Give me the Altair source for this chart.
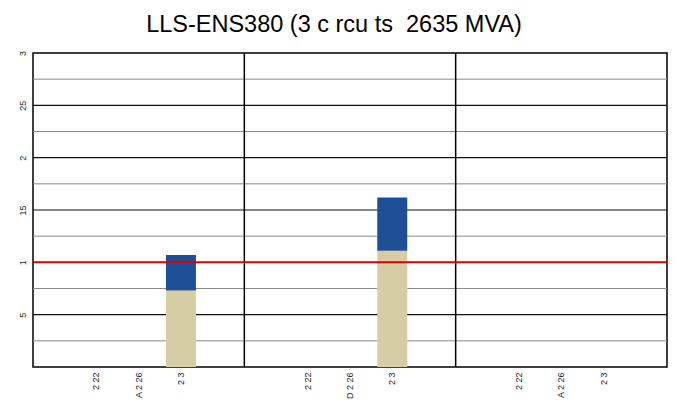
import altair as alt
import pandas as pd

title_text = "LLS-ENS380 (3 c rcu ts\u00a0\u00a02635 MVA)"
panels = ["P1", "P2", "P3"]
slot_labels = [
    ["", "2 22", "A 2 26", "2 3", ""],
    ["", "2 22", "D 2 26", "2 3", ""],
    ["", "2 22", "A 2 26", "2 3", ""],
]
base_vals = [
    [0, 0, 0, 0.73, 0],
    [0, 0, 0, 1.11, 0],
    [0, 0, 0, 0, 0],
]
top_vals = [
    [0, 0, 0, 0.34, 0],
    [0, 0, 0, 0.51, 0],
    [0, 0, 0, 0, 0],
]
y_tick_values = [0.5, 1.0, 1.5, 2.0, 2.5, 3.0]
y_tick_text = ["5", "1", "15", "2", "25", "3"]
major_grid = [0.5, 1.5, 2.0, 2.5]
minor_grid = [0.25, 0.75, 1.25, 1.75, 2.25, 2.75]
limit_value = 1.0

rows = []
slot_ids = []
slot_text = {}
for p, labs, bv, tv in zip(panels, slot_labels, base_vals, top_vals):
    for i, lab in enumerate(labs):
        sid = f"{p}_{i}"
        slot_ids.append(sid)
        slot_text[sid] = lab
        rows.append({"slot": sid, "series": "base", "ord": 0, "value": bv[i]})
        rows.append({"slot": sid, "series": "top", "ord": 1, "value": tv[i]})
df = pd.DataFrame(rows)

x_label_expr = "".join(
    f"datum.value=='{k}' ? '{v}' : " for k, v in slot_text.items() if v
) + "''"
y_label_expr = "".join(
    f"abs(datum.value-{v})<0.001 ? '{t}' : " for v, t in zip(y_tick_values, y_tick_text)
) + "''"

x_scale = alt.Scale(domain=slot_ids, paddingInner=0, paddingOuter=0)
y_scale = alt.Scale(domain=[0, 3], nice=False)
y_axis = alt.Axis(values=y_tick_values, labelExpr=y_label_expr, grid=False,
                  ticks=False, domain=False, labelAngle=270, labelFontSize=9,
                  labelColor="#222", labelFont="Liberation Sans", labelPadding=11,
                  labelBaseline="middle", labelAlign="center",
                  minExtent=20, maxExtent=20, title=None)
x_axis = alt.Axis(labelAngle=270, ticks=False, domain=False, labelFontSize=9,
                  labelColor="#222", labelPadding=5, labelFont="Liberation Sans",
                  labelExpr=x_label_expr, grid=False, title=None,
                  minExtent=24, maxExtent=24)

minor = alt.Chart(pd.DataFrame({"y": minor_grid})).mark_rule(color="#8a8a8a", strokeWidth=1).encode(
    y=alt.Y("y:Q", scale=y_scale, axis=y_axis, title=None)
)
major = alt.Chart(pd.DataFrame({"y": major_grid})).mark_rule(color="#111111", strokeWidth=1.2).encode(
    y=alt.Y("y:Q", scale=y_scale, axis=y_axis, title=None)
)

bars = alt.Chart(df).mark_bar(size=30).encode(
    x=alt.X("slot:N", sort=slot_ids, title=None, scale=x_scale, axis=x_axis),
    y=alt.Y("value:Q", stack="zero", title=None, scale=y_scale, axis=y_axis),
    color=alt.Color("series:N", legend=None,
                    scale=alt.Scale(domain=["base", "top"], range=["#d7cda5", "#1e4f96"])),
    order=alt.Order("ord:Q"),
)

sep = alt.Chart(pd.DataFrame({"slot": ["P2_0", "P3_0"]})).mark_rule(color="#000", strokeWidth=1.5).encode(
    x=alt.X("slot:N", bandPosition=0, scale=x_scale, sort=slot_ids, axis=x_axis, title=None)
)

rule = alt.Chart(pd.DataFrame({"y": [limit_value]})).mark_rule(color="#e00000", strokeWidth=2).encode(
    y=alt.Y("y:Q", scale=y_scale, axis=y_axis, title=None)
)

chart = alt.layer(minor, major, bars, sep, rule).properties(
    width=634, height=314,
    title=alt.TitleParams(title_text, fontSize=23.5, font="Liberation Sans", fontWeight="normal",
                          anchor="middle", offset=14, dx=-16, color="#000"),
    padding={"left": 5, "top": 4, "right": 0, "bottom": 0},
).configure_view(stroke="#000", strokeWidth=1.5)

chart.save("out.html", embed_options={"renderer": "svg", "actions": False})
